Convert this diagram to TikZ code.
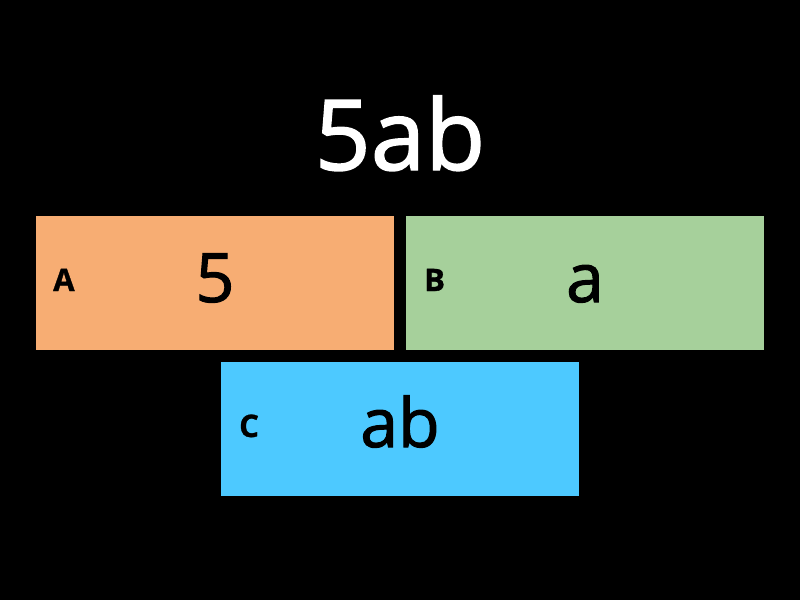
\documentclass[tikz,border=0pt]{standalone}
\usepackage{fontspec}
\setmainfont{Open Sans}
\newfontfamily\semifont{Open Sans}[FakeBold=1.5]
\newfontfamily\heavyfont{Open Sans Bold}[FakeBold=1]
\usetikzlibrary{positioning}
\definecolor{tileA}{HTML}{F7AD73}
\definecolor{tileB}{HTML}{A6D09B}
\definecolor{tileC}{HTML}{4DC9FF}
\tikzset{tile/.style={draw=none,minimum width=358pt,minimum height=134pt,inner sep=0pt}}
\tikzset{term/.style={inner sep=0pt,anchor=base,font=\semifont\fontsize{68}{68}\selectfont}}
\tikzset{tag/.style={inner sep=0pt,anchor=base west,font=\heavyfont\fontsize{31}{31}\selectfont}}
\tikzset{title/.style={inner sep=0pt,anchor=base,text=white,font=\semifont\fontsize{98}{98}\selectfont}}

\begin{document}
\begin{tikzpicture}[x=1pt,y=-1pt]
	\fill[black] (0,0) rectangle (800,600);
	\useasboundingbox (0,0) rectangle (800,600);

	% Heading
	\node[title] (head) at (400,170) {5ab};

	%% The three answer tiles
	\node[tile,fill=tileA] (boxA) at (215,283) {};
	\node[tile,fill=tileB] (boxB) at (585,283) {};
	\node[tile,fill=tileC] (boxC) at (400,428.5) {};

	% Letters on the left of each tile
	\node[tag] (tagA) at (53,291) {A};
	\node[tag] (tagB) at (424,291) {B};
	\node[tag] (tagC) at (239,437) {C};

	% Terms in the middle of each tile
	\node[term] (termA) at (215,302) {5};
	\node[term] (termB) at (585,302) {a};
	\node[term] (termC) at (400,447) {ab};
\end{tikzpicture}
\end{document}
